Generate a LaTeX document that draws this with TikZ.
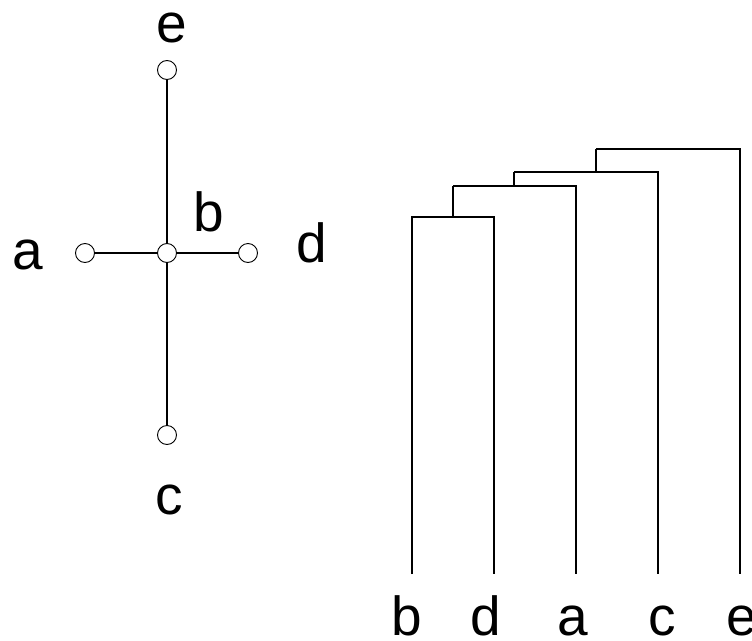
\documentclass[tikz,border=0pt]{standalone}
\usepackage{fontspec}
\setmainfont{Liberation Sans}
\begin{document}
\begin{tikzpicture}[x=1pt,y=-1pt,
  vert/.style={circle,draw=black,fill=white,line width=0.9pt,minimum size=19pt,inner sep=0pt},
  edge/.style={line width=2.2pt},
  link/.style={line width=2.3pt,line join=miter},
  lab/.style={font=\fontsize{55}{60}\selectfont,anchor=base,inner sep=0pt}]
\useasboundingbox (0,0) rectangle (752,640);

% star-shaped tree
\node[vert] (b) at (167,253) {};
\node[vert] (a) at (85,253) {};
\node[vert] (d) at (248,253) {};
\node[vert] (e) at (167,70) {};
\node[vert] (c) at (167,435) {};
\draw[edge] (a) -- (b);
\draw[edge] (b) -- (d);
\draw[edge] (e) -- (b);
\draw[edge] (b) -- (c);

\node[lab] (le) at (172,42) {e};
\node[lab] (la) at (28,269) {a};
\node[lab] (lb) at (209,231) {b};
\node[lab] (ld) at (312,262) {d};
\node[lab] (lc) at (169,514) {c};

% dendrogram
\coordinate (Lb) at (412,574);
\coordinate (Ld) at (494,574);
\coordinate (La) at (576,574);
\coordinate (Lc) at (658,574);
\coordinate (Le) at (740,574);
\coordinate (Jbd) at (453,217);
\coordinate (Jbda) at (514,186);
\coordinate (Jbdac) at (596,172);
\coordinate (Jtop) at (596,149);

\draw[link] (Lb) |- (Jbd) -| (Ld);
\draw[link] (Jbd) -- (Jbd |- Jbda);
\draw[link] (Jbd |- Jbda) -| (La);
\draw[link] (Jbda) -- (Jbda |- Jbdac);
\draw[link] (Jbda |- Jbdac) -| (Lc);
\draw[link] (Jbdac) -- (Jtop);
\draw[link] (Jtop) -| (Le);

\node[lab] (tb) at (407,635) {b};
\node[lab] (td) at (486,635) {d};
\node[lab] (ta) at (573,635) {a};
\node[lab] (tc) at (662,635) {c};
\node[lab] (te) at (742,635) {e};
\end{tikzpicture}
\end{document}
